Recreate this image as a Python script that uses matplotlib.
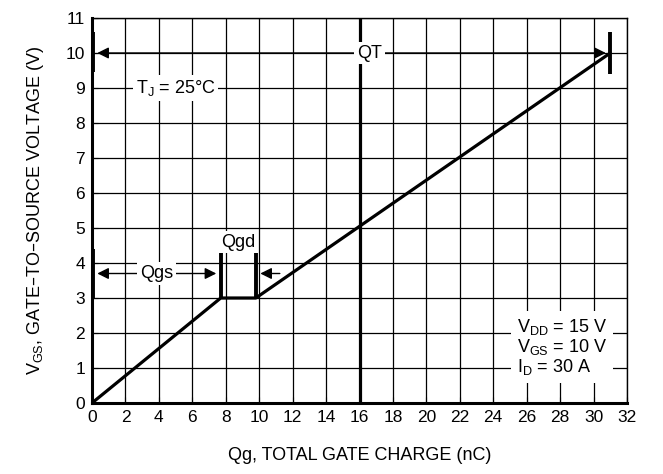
import numpy as np
import matplotlib
matplotlib.use("Agg")
import matplotlib.pyplot as plt

plt.rcParams['font.family'] = ['Liberation Sans', 'DejaVu Sans']
plt.rcParams['font.size'] = 12

# Gate charge curve (nC, V)
qg = [0.0, 7.7, 9.8, 31.0]
vgs = [0.0, 3.0, 3.0, 10.0]

x_ticks = list(range(0, 33, 2))
y_ticks = list(range(0, 12))

fig = plt.figure(figsize=(6.63, 4.74), dpi=100)
ax = fig.add_axes([92 / 663, 1 - 403 / 474, (627 - 92) / 663, (403 - 18) / 474])

ax.set_xlim(0, 32)
ax.set_ylim(0, 11)
ax.set_xticks(x_ticks)
ax.set_yticks(y_ticks)
ax.grid(True, color="black", linewidth=0.9)
ax.tick_params(direction="in", length=4, top=False, right=False, labelsize=12.5, pad=5)
for side in ["left", "bottom"]:
    ax.spines[side].set_linewidth(2.2)
for side in ["top", "right"]:
    ax.spines[side].set_linewidth(1.0)

# main curve and QT line
ax.plot(qg, vgs, color="black", linewidth=2.3, solid_capstyle="butt", zorder=4)
ax.axvline(16, color="black", linewidth=2.3, zorder=4)

# thick marker bars
bars = [(0.08, 9.45, 10.6), (31.0, 9.4, 10.6), (0.08, 3.0, 4.4),
        (7.7, 3.0, 4.3), (9.8, 3.0, 4.4)]
for bx, y0, y1 in bars:
    ax.plot([bx, bx], [y0, y1], color="black", linewidth=2.8,
            solid_capstyle="butt", zorder=5, clip_on=False)

arrow = dict(arrowstyle="-|>", color="black", lw=1.0, mutation_scale=17)
box = dict(facecolor="white", edgecolor="none", pad=2)

# QT
ax.annotate("", xy=(0.15, 10), xytext=(16, 10), arrowprops=arrow, zorder=6)
ax.annotate("", xy=(30.9, 10), xytext=(16, 10), arrowprops=arrow, zorder=6)
ax.text(16.6, 10, "QT", ha="center", va="center", fontsize=13, bbox=box, zorder=7)

# Qgs
ax.annotate("", xy=(0.15, 3.7), xytext=(3.85, 3.7), arrowprops=arrow, zorder=6)
ax.annotate("", xy=(7.6, 3.7), xytext=(3.85, 3.7), arrowprops=arrow, zorder=6)
ax.text(3.85, 3.7, "Qgs", ha="center", va="center", fontsize=13, bbox=box, zorder=7)

# Qgd
ax.annotate("", xy=(9.9, 3.7), xytext=(11.4, 3.7), arrowprops=arrow, zorder=6)
ax.text(8.75, 4.6, "Qgd", ha="center", va="center", fontsize=13, bbox=box, zorder=7)

# conditions
ax.text(5.0, 9.0, "T$_\\mathregular{J}$ = 25°C", ha="center", va="center",
        fontsize=13, bbox=box, zorder=7)
ax.text(25.4, 1.6, "V$_\\mathregular{DD}$ = 15 V\nV$_\\mathregular{GS}$ = 10 V\nI$_\\mathregular{D}$ = 30 A",
        ha="left", va="center", fontsize=13, linespacing=1.0,
        bbox=dict(facecolor="white", edgecolor="none", pad=4), zorder=7)

ax.set_xlabel("Qg, TOTAL GATE CHARGE (nC)", fontsize=13, labelpad=16)
ax.set_ylabel("V$_\\mathregular{GS}$, GATE\u2013TO\u2013SOURCE VOLTAGE (V)", fontsize=13, labelpad=14)

fig.savefig("out.png", dpi=100)
